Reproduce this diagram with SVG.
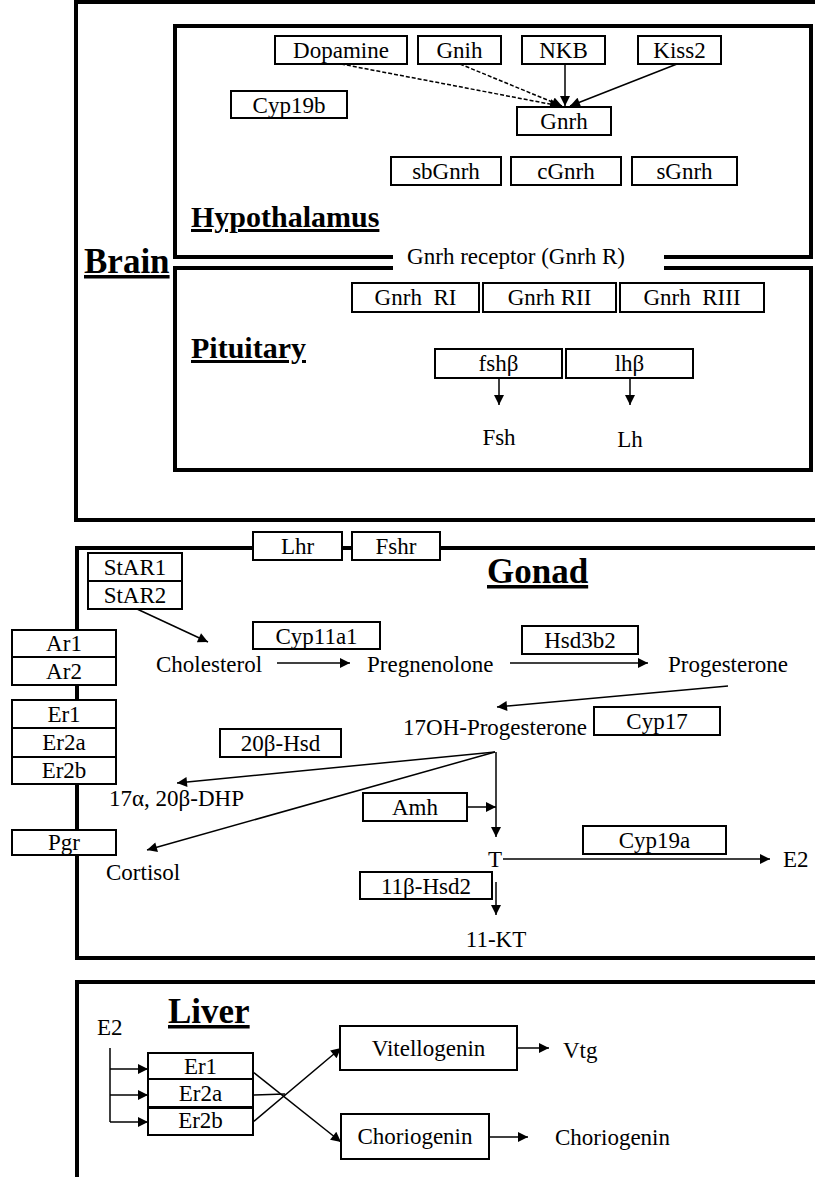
<svg xmlns="http://www.w3.org/2000/svg" width="815" height="1177" viewBox="0 0 815 1177">
<style>
.bg{fill:#fff}
.box{fill:#fff;stroke:#000;stroke-width:2}
.frame{fill:none;stroke:#000;stroke-width:4}
.t{font-family:"Liberation Serif","Times New Roman",serif;font-size:23px;fill:#000}
.c{text-anchor:middle}
.e{text-anchor:end}
.h{font-family:"Liberation Serif","Times New Roman",serif;font-weight:bold;text-decoration:underline;fill:#000}
.ln{fill:none;stroke:#000;stroke-width:1.5}
.ar{fill:none;stroke:#000;stroke-width:1.5;marker-end:url(#ah)}
.da{fill:none;stroke:#000;stroke-width:1.5;stroke-dasharray:4 2;marker-end:url(#ah)}
</style>
<defs>
<marker id="ah" viewBox="0 0 10 10" refX="10" refY="5" markerWidth="12" markerHeight="10" markerUnits="userSpaceOnUse" orient="auto"><path d="M0,0 L10,5 L0,10 z" fill="#000"/></marker>
</defs>
<rect class="bg" x="0" y="0" width="815" height="1177"/>

<g id="frames">
<path class="frame" d="M815,2 H76 V520 H815"/>
<path class="frame" d="M393,257 H175 V26 H811 V257 H664"/>
<path class="frame" d="M393,268 H175 V470 H811 V268 H664"/>
<path class="frame" d="M815,548 H77 V958 H815"/>
<path class="frame" d="M815,982 H77 V1177"/>
</g>

<g id="labels">
<text class="h" x="84" y="273" font-size="35">Brain</text>
<text class="h" x="191" y="227" font-size="30">Hypothalamus</text>
<text class="h" x="191" y="358" font-size="30">Pituitary</text>
<text class="h" x="487" y="583" font-size="35">Gonad</text>
<text class="h" x="168" y="1023" font-size="35">Liver</text>
<text class="t c" x="516" y="264">Gnrh receptor (Gnrh R)</text>
</g>

<g id="connectors">
<line class="da" x1="341" y1="64" x2="560" y2="106"/>
<line class="da" x1="460" y1="64" x2="562" y2="106"/>
<line class="ar" x1="565" y1="64" x2="565" y2="106"/>
<line class="ar" x1="677" y1="64" x2="570" y2="106"/>
<line class="ar" x1="499" y1="378" x2="499" y2="405"/>
<line class="ar" x1="630" y1="378" x2="630" y2="405"/>
<line class="ar" x1="137" y1="609" x2="208" y2="642"/>
<line class="ar" x1="277" y1="663" x2="350" y2="663"/>
<line class="ar" x1="510" y1="663" x2="648" y2="663"/>
<line class="ar" x1="728" y1="686" x2="497" y2="707"/>
<line class="ar" x1="495" y1="752" x2="177" y2="783"/>
<line class="ar" x1="495" y1="752" x2="147" y2="850"/>
<line class="ar" x1="496" y1="752" x2="496" y2="837"/>
<line class="ar" x1="467" y1="807" x2="496" y2="807"/>
<line class="ar" x1="503" y1="859" x2="770" y2="859"/>
<line class="ar" x1="496" y1="882" x2="496" y2="915"/>
<line class="ln" x1="110" y1="1048" x2="110" y2="1122"/>
<line class="ar" x1="110" y1="1069" x2="148" y2="1069"/>
<line class="ar" x1="110" y1="1095" x2="148" y2="1095"/>
<line class="ar" x1="110" y1="1122" x2="148" y2="1122"/>
<line class="ar" x1="253" y1="1072" x2="341" y2="1142"/>
<line class="ar" x1="253" y1="1122" x2="341" y2="1048"/>
<line class="ln" x1="253" y1="1095" x2="285" y2="1094"/>
<line class="ar" x1="517" y1="1048" x2="549" y2="1048"/>
<line class="ar" x1="489" y1="1137" x2="528" y2="1137"/>
</g>

<g id="dopamine"><rect class="box" x="275" y="36" width="132" height="28"/><text class="t c" x="341" y="58">Dopamine</text></g>
<g id="gnih"><rect class="box" x="418" y="36" width="83" height="28"/><text class="t c" x="459.5" y="58">Gnih</text></g>
<g id="nkb"><rect class="box" x="522" y="36" width="83" height="28"/><text class="t c" x="563.5" y="58">NKB</text></g>
<g id="kiss2"><rect class="box" x="638" y="36" width="83" height="28"/><text class="t c" x="679.5" y="58">Kiss2</text></g>
<g id="cyp19b"><rect class="box" x="231" y="91" width="116" height="27"/><text class="t c" x="289" y="113">Cyp19b</text></g>
<g id="gnrh"><rect class="box" x="517" y="107" width="94" height="28"/><text class="t c" x="564" y="129">Gnrh</text></g>
<g id="sbgnrh"><rect class="box" x="391" y="157" width="110" height="28"/><text class="t c" x="446" y="179">sbGnrh</text></g>
<g id="cgnrh"><rect class="box" x="511" y="157" width="110" height="28"/><text class="t c" x="566" y="179">cGnrh</text></g>
<g id="sgnrh"><rect class="box" x="632" y="157" width="105" height="28"/><text class="t c" x="684.5" y="179">sGnrh</text></g>

<g id="gnrhr1"><rect class="box" x="352" y="283" width="127" height="29"/><text class="t c" x="415.5" y="305" xml:space="preserve">Gnrh  RI</text></g>
<g id="gnrhr2"><rect class="box" x="483" y="283" width="133" height="29"/><text class="t c" x="549.5" y="305">Gnrh RII</text></g>
<g id="gnrhr3"><rect class="box" x="620" y="283" width="144" height="29"/><text class="t c" x="692" y="305" xml:space="preserve">Gnrh  RIII</text></g>
<g id="fshb"><rect class="box" x="435" y="349" width="127" height="29"/><text class="t c" x="498.5" y="371">fshβ</text></g>
<g id="lhb"><rect class="box" x="566" y="349" width="127" height="29"/><text class="t c" x="629.5" y="371">lhβ</text></g>
<g id="fsh"><text class="t c" x="499" y="445">Fsh</text></g>
<g id="lh"><text class="t c" x="630" y="447">Lh</text></g>

<g id="lhr"><rect class="box" x="253" y="532" width="89" height="28"/><text class="t c" x="297.5" y="554">Lhr</text></g>
<g id="fshr"><rect class="box" x="352" y="532" width="88" height="28"/><text class="t c" x="396" y="554">Fshr</text></g>
<g id="star1"><rect class="box" x="88" y="553" width="94" height="28"/><text class="t c" x="135" y="575">StAR1</text></g>
<g id="star2"><rect class="box" x="88" y="581" width="94" height="28"/><text class="t c" x="135" y="603">StAR2</text></g>
<g id="ar1"><rect class="box" x="12" y="630" width="104" height="27"/><text class="t c" x="64" y="651">Ar1</text></g>
<g id="ar2"><rect class="box" x="12" y="657" width="104" height="28"/><text class="t c" x="64" y="679">Ar2</text></g>
<g id="er1g"><rect class="box" x="12" y="700" width="104" height="28"/><text class="t c" x="64" y="722">Er1</text></g>
<g id="er2ag"><rect class="box" x="12" y="728" width="104" height="29"/><text class="t c" x="64" y="750">Er2a</text></g>
<g id="er2bg"><rect class="box" x="12" y="757" width="104" height="27"/><text class="t c" x="64" y="778">Er2b</text></g>
<g id="pgr"><rect class="box" x="12" y="830" width="104" height="25"/><text class="t c" x="64" y="850">Pgr</text></g>
<g id="cyp11a1"><rect class="box" x="253" y="622" width="127" height="27"/><text class="t c" x="316.5" y="644">Cyp11a1</text></g>
<g id="hsd3b2"><rect class="box" x="522" y="626" width="116" height="28"/><text class="t c" x="580" y="648">Hsd3b2</text></g>
<g id="cyp17"><rect class="box" x="594" y="707" width="126" height="28"/><text class="t c" x="657" y="729">Cyp17</text></g>
<g id="hsd20b"><rect class="box" x="220" y="729" width="121" height="28"/><text class="t c" x="280.5" y="751">20β-Hsd</text></g>
<g id="amh"><rect class="box" x="363" y="793" width="104" height="28"/><text class="t c" x="415" y="815">Amh</text></g>
<g id="cyp19a"><rect class="box" x="583" y="826" width="143" height="28"/><text class="t c" x="654.5" y="848">Cyp19a</text></g>
<g id="hsd11b2"><rect class="box" x="360" y="872" width="132" height="27"/><text class="t c" x="426" y="894">11β-Hsd2</text></g>
<g id="cholesterol"><text class="t" x="156" y="672">Cholesterol</text></g>
<g id="pregnenolone"><text class="t" x="367" y="672">Pregnenolone</text></g>
<g id="progesterone"><text class="t" x="668" y="672">Progesterone</text></g>
<g id="oh17prog"><text class="t e" x="587" y="735">17OH-Progesterone</text></g>
<g id="dhp"><text class="t" x="109" y="806">17α, 20β-DHP</text></g>
<g id="cortisol"><text class="t" x="106" y="880">Cortisol</text></g>
<g id="t"><text class="t c" x="495" y="867">T</text></g>
<g id="e2g"><text class="t" x="783" y="867">E2</text></g>
<g id="kt11"><text class="t c" x="496" y="947">11-KT</text></g>

<g id="e2l"><text class="t" x="97" y="1035">E2</text></g>
<g id="er1l"><rect class="box" x="148" y="1053" width="105" height="26"/><text class="t c" x="200.5" y="1074">Er1</text></g>
<g id="er2al"><rect class="box" x="148" y="1079" width="105" height="28"/><text class="t c" x="200.5" y="1101">Er2a</text></g>
<g id="er2bl"><rect class="box" x="148" y="1108" width="105" height="27"/><text class="t c" x="200.5" y="1128">Er2b</text></g>
<g id="vitellogenin"><rect class="box" x="340" y="1026" width="177" height="44"/><text class="t c" x="428.5" y="1056">Vitellogenin</text></g>
<g id="choriogeninbox"><rect class="box" x="341" y="1114" width="148" height="45"/><text class="t c" x="415" y="1144">Choriogenin</text></g>
<g id="vtg"><text class="t" x="563" y="1058">Vtg</text></g>
<g id="choriogenin"><text class="t" x="555" y="1145">Choriogenin</text></g>
</svg>
